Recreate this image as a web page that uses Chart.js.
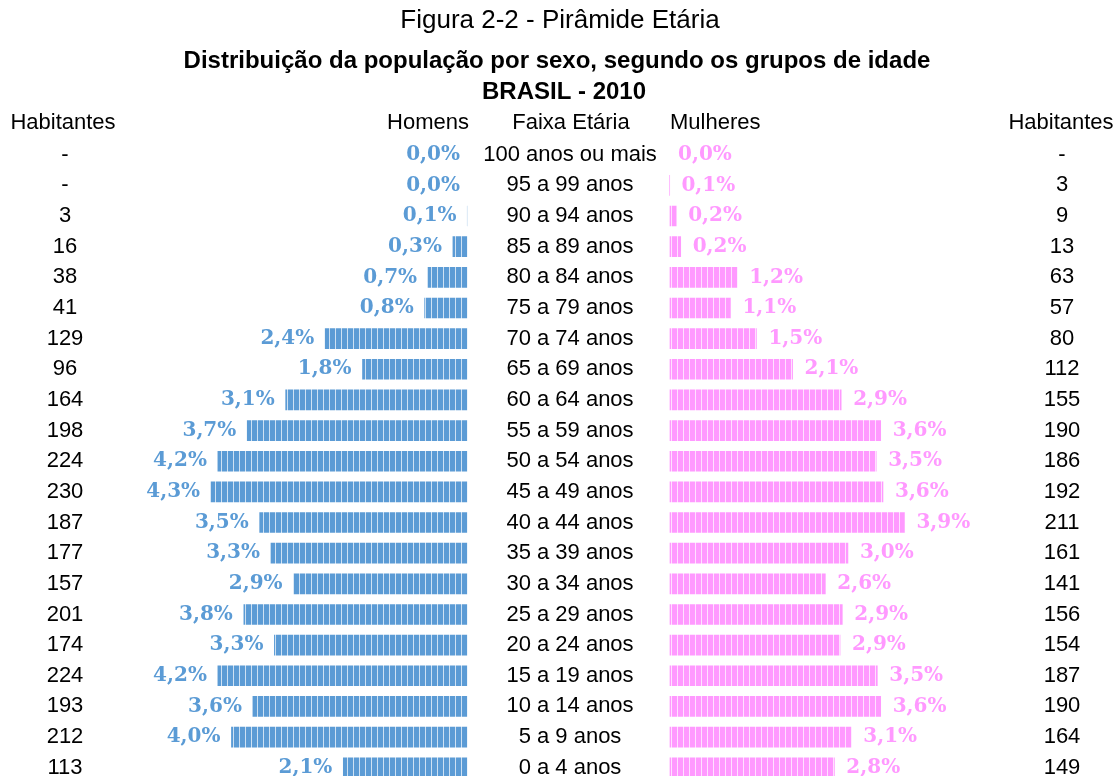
<!DOCTYPE html>
<html lang="pt-BR">
<head>
<meta charset="utf-8">
<title>Pirâmide Etária - Brasil 2010</title>
<script src="https://cdn.jsdelivr.net/npm/chart.js@4.4.1/dist/chart.umd.min.js"></script>
<style>
  html, body { margin: 0; padding: 0; background: #fff; overflow: hidden; }
  #wrap { width: 1120px; height: 790px; }
</style>
</head>
<body>
<div id="wrap"><canvas id="piramide" width="1120" height="790"></canvas></div>
<script>
// dados
const faixas = ['100 anos ou mais', '95 a 99 anos', '90 a 94 anos', '85 a 89 anos', '80 a 84 anos',
    '75 a 79 anos', '70 a 74 anos', '65 a 69 anos', '60 a 64 anos', '55 a 59 anos', '50 a 54 anos',
    '45 a 49 anos', '40 a 44 anos', '35 a 39 anos', '30 a 34 anos', '25 a 29 anos', '20 a 24 anos',
    '15 a 19 anos', '10 a 14 anos', '5 a 9 anos', '0 a 4 anos'];
const homensHab = [0, 0, 3, 16, 38, 41, 129, 96, 164, 198, 224, 230, 187, 177, 157, 201, 174, 224, 193, 212, 113];
const mulheresHab = [0, 3, 9, 13, 63, 57, 80, 112, 155, 190, 186, 192, 211, 161, 141, 156, 154, 187, 190, 164, 149];
const homensPct = [0.0, 0.0, 0.1, 0.3, 0.7, 0.8, 2.4, 1.8, 3.1, 3.7, 4.2, 4.3, 3.5, 3.3, 2.9, 3.8, 3.3, 4.2, 3.6, 4.0, 2.1];
const mulheresPct = [0.0, 0.1, 0.2, 0.2, 1.2, 1.1, 1.5, 2.1, 2.9, 3.6, 3.5, 3.6, 3.9, 3.0, 2.6, 2.9, 2.9, 3.5, 3.6, 3.1, 2.8];

const titulo = 'Figura 2-2 - Pirâmide Etária';
const subtitulo = 'Distribuição da população por sexo, segundo os grupos de idade';
const local = 'BRASIL - 2010';

const AZUL = '#5b9bd5';
const ROSA = '#ff99ff';
const SANS = '"Liberation Sans", Arial, sans-serif';
const SERIF = '"DejaVu Serif", serif';

// geometria: base de cada lado (incluindo a borda branca) e px por habitante
const LARGURA = 1120;
const BASE_HOMENS = 469;
const BASE_MULHERES = 668;
const PX_POR_HAB = 1.13;
const BORDA = 2;

function listrado(cor) {
    const c = document.createElement('canvas');
    c.width = 6;
    c.height = 24;
    const g = c.getContext('2d');
    g.fillStyle = cor;
    g.fillRect(0, 0, 6, 24);
    g.fillStyle = 'rgba(255,255,255,0.7)';
    g.fillRect(5, 0, 1, 24);
    return g.createPattern(c, 'repeat');
}

const fmtPct = v => v.toFixed(1).replace('.', ',') + '%';
const fmtHab = v => v === 0 ? '-' : String(v);

const textos = {
    id: 'textos',
    afterDatasetsDraw(chart) {
        const ctx = chart.ctx;
        const y = chart.scales.y;
        ctx.save();
        ctx.textBaseline = 'middle';
        ctx.fillStyle = '#000';

        ctx.textAlign = 'center';
        ctx.font = '26px ' + SANS;
        ctx.fillText(titulo, 560, 21);
        ctx.font = 'bold 24px ' + SANS;
        ctx.fillText(subtitulo, 557, 61);
        ctx.fillText(local, 564, 92);

        ctx.font = '22px ' + SANS;
        ctx.fillText('Habitantes', 63, 123);
        ctx.fillText('Faixa Etária', 571, 123);
        ctx.fillText('Habitantes', 1061, 123);
        ctx.textAlign = 'right';
        ctx.fillText('Homens', 469, 123);
        ctx.textAlign = 'left';
        ctx.fillText('Mulheres', 670, 123);

        ctx.textAlign = 'center';
        faixas.forEach((faixa, i) => {
            const yy = y.getPixelForValue(i);
            ctx.fillText(fmtHab(homensHab[i]), 65, yy);
            ctx.fillText(faixa, 570, yy);
            ctx.fillText(fmtHab(mulheresHab[i]), 1062, yy);
        });

        ctx.font = 'bold 20px ' + SERIF;
        ctx.textAlign = 'right';
        ctx.fillStyle = AZUL;
        chart.getDatasetMeta(0).data.forEach((bar, i) => {
            ctx.fillText(fmtPct(homensPct[i]), Math.min(bar.x, bar.base) - 9, bar.y);
        });
        ctx.textAlign = 'left';
        ctx.fillStyle = ROSA;
        chart.getDatasetMeta(1).data.forEach((bar, i) => {
            ctx.fillText(fmtPct(mulheresPct[i]), Math.max(bar.x, bar.base) + 10, bar.y);
        });
        ctx.restore();
    }
};

const faixaTotal = LARGURA / PX_POR_HAB;
const maxHomens = BASE_HOMENS / PX_POR_HAB;
const minMulheres = -BASE_MULHERES / PX_POR_HAB;

const estiloBarra = {
    borderColor: '#ffffff',
    borderWidth: BORDA,
    borderSkipped: false,
    barThickness: 24,
    grouped: false
};

new Chart(document.getElementById('piramide'), {
    type: 'bar',
    data: {
        labels: faixas,
        datasets: [{
            label: 'Homens',
            data: homensHab,
            xAxisID: 'xh',
            backgroundColor: listrado(AZUL),
            ...estiloBarra
        }, {
            label: 'Mulheres',
            data: mulheresHab,
            xAxisID: 'xm',
            backgroundColor: listrado(ROSA),
            ...estiloBarra
        }]
    },
    options: {
        indexAxis: 'y',
        responsive: false,
        animation: false,
        devicePixelRatio: 1,
        layout: { padding: { top: 139.4, bottom: 6.95, left: 0, right: 0 } },
        plugins: {
            legend: { display: false },
            tooltip: { enabled: false },
            title: { display: false }
        },
        scales: {
            y: { display: false, offset: true, grid: { display: false } },
            xh: {
                type: 'linear', axis: 'x', position: 'bottom', reverse: true, display: false,
                min: maxHomens - faixaTotal, max: maxHomens, grid: { display: false }
            },
            xm: {
                type: 'linear', axis: 'x', position: 'bottom', display: false,
                min: minMulheres, max: minMulheres + faixaTotal, grid: { display: false }
            }
        }
    },
    plugins: [textos]
});
</script>
</body>
</html>
